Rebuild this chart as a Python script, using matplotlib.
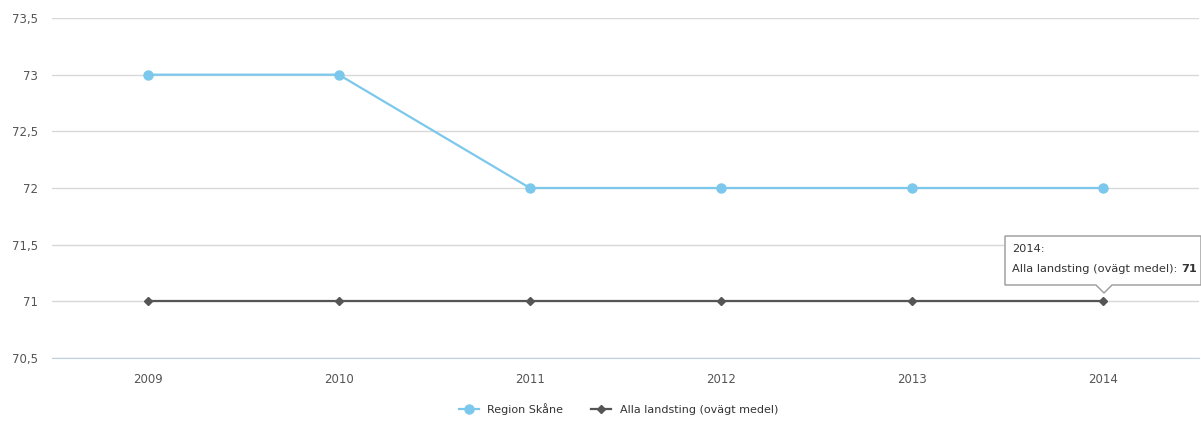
import matplotlib.pyplot as plt
from matplotlib.patches import Polygon

# Data
years = ['2009', '2010', '2011', '2012', '2013', '2014']
skane = [73, 73, 72, 72, 72, 72]
alla = [71, 71, 71, 71, 71, 71]
yticks = [70.5, 71, 71.5, 72, 72.5, 73, 73.5]

plt.rcParams['font.family'] = ['DejaVu Sans']

fig = plt.figure(figsize=(12.01, 4.25), dpi=100)
ax = fig.add_axes([52 / 1201, 1 - 358 / 425, 1147 / 1201, 340 / 425])

x = list(range(len(years)))
ax.plot(x, skane, color='#7cc8ec', lw=1.6, marker='o', ms=6.5, label='Region Skåne', zorder=3)
ax.plot(x, alla, color='#555555', lw=1.6, marker='D', ms=4.5, label='Alla landsting (ovägt medel)', zorder=3)

ax.set_xlim(-0.5, 5.5)
ax.set_ylim(70.5, 73.5)
ax.set_xticks(x)
ax.set_xticklabels(years)
ax.set_yticks(yticks)
ax.set_yticklabels([('%g' % v).replace('.', ',') for v in yticks])
ax.grid(axis='y', color='#d8d8d8', lw=1)
ax.set_axisbelow(True)
for s in ['top', 'right', 'left']:
    ax.spines[s].set_visible(False)
ax.spines['bottom'].set_color('#c0d0e0')
ax.tick_params(axis='both', length=0, colors='#555555', labelsize=8.5)
ax.tick_params(axis='x', pad=11)
ax.tick_params(axis='y', pad=10)

leg = fig.legend(loc='lower center', bbox_to_anchor=(0.515, 0.0), ncol=2, frameon=False,
                 fontsize=8, handlelength=1.8, columnspacing=2.5, labelcolor='#333333')

# Tooltip box at 2014 (pixel coords, top-left origin)
pts = [[1005, 236], [1201, 236], [1201, 285], [1112, 285], [1104, 293],
       [1096, 285], [1005, 285]]
tip = Polygon([[px, 425 - py] for px, py in pts], closed=True, transform=None,
              facecolor='white', edgecolor='#999999', lw=1, zorder=10)
fig.patches.append(tip)
fig.text(1012 / 1201, 1 - 249 / 425, '2014:', fontsize=8.2, color='#333333', va='center', zorder=11)
t = fig.text(1012 / 1201, 1 - 269 / 425, 'Alla landsting (ovägt medel):', fontsize=8.2,
             color='#333333', va='center', zorder=11)
fig.canvas.draw()
bb = t.get_window_extent()
fig.text((bb.x1 + 4) / 1201, 1 - 269 / 425, '71', fontsize=8.2, color='#333333', va='center',
         fontweight='bold', zorder=11)

fig.savefig('out.png', dpi=100)
